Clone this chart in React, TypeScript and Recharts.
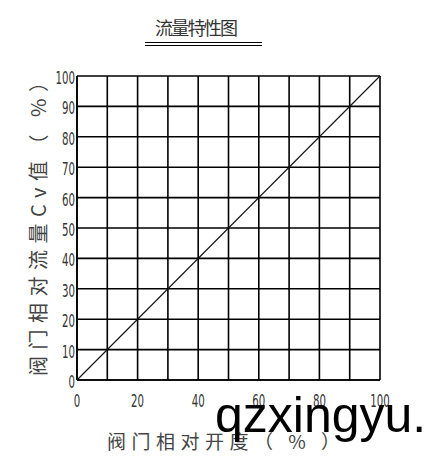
import { CartesianGrid, Line, LineChart, XAxis, YAxis } from "recharts";

const openings = [0, 100];
const flows = [0, 100];
const gridTicks = [0, 10, 20, 30, 40, 50, 60, 70, 80, 90, 100];
const xLabelTicks = [0, 20, 40, 60, 80, 100];
const yTicks = [0, 10, 20, 30, 40, 50, 60, 70, 80, 90, 100];

const title = "流量特性图";
const xTitle = "阀门相对开度（ % ）";
const yTitle = "阀门相对流量Cv值（ %）";
const watermark = "qzxingyu.";

const data = openings.map((o, i) => ({ opening: o, flow: flows[i] }));

const tickFont = "'DejaVu Sans', sans-serif";
const cjkFont = "'Noto Sans CJK SC', sans-serif";

function XTick({ x, y, payload }: any) {
  if (!xLabelTicks.includes(payload.value)) return <g />;
  return (
    <text
      transform={`translate(${x},${y + 27}) scale(0.6,1)`}
      textAnchor="middle"
      fontFamily={tickFont}
      fontSize={17}
      fill="#333"
    >
      {payload.value}
    </text>
  );
}

function YTick({ x, y, payload }: any) {
  return (
    <text
      transform={`translate(${x - 2},${y + 8}) scale(0.6,1)`}
      textAnchor="end"
      fontFamily={tickFont}
      fontSize={17}
      fill="#333"
    >
      {payload.value}
    </text>
  );
}

export default function App() {
  return (
    <div style={{ position: "absolute", left: 0, top: 0, width: 434, height: 461, background: "#fff" }}>
      <LineChart
        width={434}
        height={461}
        data={data}
        margin={{ top: 76, right: 54, bottom: 51, left: 37 }}
      >
        <CartesianGrid stroke="#000" strokeWidth={1.6} fill="none" />
        <XAxis
          dataKey="opening"
          type="number"
          domain={[0, 100]}
          ticks={gridTicks}
          interval={0}
          height={30}
          tickSize={0}
          tickMargin={0}
          tick={<XTick />}
          axisLine={{ stroke: "#000", strokeWidth: 1.6 }}
          tickLine={false}
        />
        <YAxis
          dataKey="flow"
          type="number"
          domain={[0, 100]}
          ticks={yTicks}
          interval={0}
          width={40}
          tickSize={0}
          tickMargin={0}
          tick={<YTick />}
          axisLine={{ stroke: "#000", strokeWidth: 1.6 }}
          tickLine={false}
        />
        <Line
          dataKey="flow"
          stroke="#111"
          strokeWidth={1.1}
          dot={false}
          isAnimationActive={false}
        />
      </LineChart>
      <svg
        width={434}
        height={461}
        style={{ position: "absolute", left: 0, top: 0, pointerEvents: "none" }}
      >
        <text x={155} y={35} fontFamily={cjkFont} fontSize={18} fill="#333" textLength={83} lengthAdjust="spacing">
          {title}
        </text>
        <line x1={145} x2={262} y1={42.5} y2={42.5} stroke="#000" strokeWidth={1} />
        <line x1={145} x2={262} y1={45.5} y2={45.5} stroke="#000" strokeWidth={1} />
        <text
          transform="translate(46,376) rotate(-90)"
          fontFamily={cjkFont}
          fontSize={20}
          fill="#444"
          textLength={304}
          lengthAdjust="spacing"
        >
          {yTitle}
        </text>
        <text x={107} y={449} fontFamily={cjkFont} fontSize={19} fill="#444" textLength={233} lengthAdjust="spacing">
          {xTitle}
        </text>
        <text x={215} y={432} fontFamily="'Liberation Sans', sans-serif" fontSize={50} fill="#000">
          {watermark}
        </text>
      </svg>
    </div>
  );
}
